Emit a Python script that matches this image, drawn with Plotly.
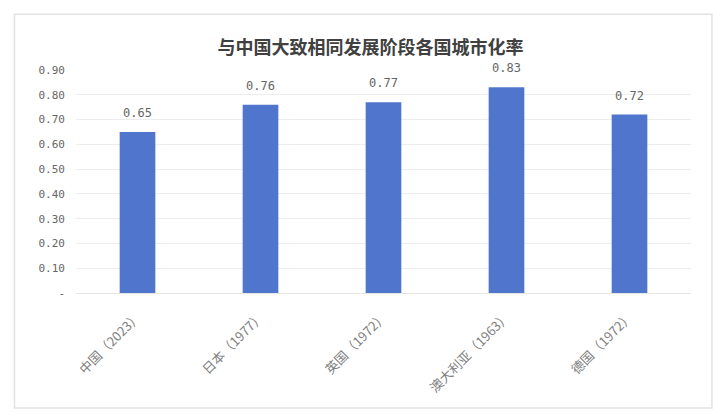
import plotly.graph_objects as go

countries = ['中国（2023）', '日本（1977）', '英国（1972）', '澳大利亚（1963）', '德国（1972）']
rates = [0.65, 0.76, 0.77, 0.83, 0.72]
y_ticks = [0, 0.1, 0.2, 0.3, 0.4, 0.5, 0.6, 0.7, 0.8, 0.9]
y_tick_text = ['-', '0.10', '0.20', '0.30', '0.40', '0.50', '0.60', '0.70', '0.80', '0.90']

fig = go.Figure(go.Bar(
    x=countries, y=rates,
    marker=dict(color='#4F76CC', line=dict(width=0)),
    width=0.29,
))

# value labels sit a bit higher above the bars than plotly's default
for c, v in zip(countries, rates):
    fig.add_annotation(x=c, y=v, text='%.2f' % v, showarrow=False, yanchor='bottom', yshift=10,
                       font=dict(size=12, color='#666666', family='DejaVu Sans Mono'))

fig.update_layout(
    width=725, height=418,
    margin=dict(l=68, r=42, t=62, b=133),
    paper_bgcolor='white', plot_bgcolor='white',
    title=dict(text='<b>与中国大致相同发展阶段各国城市化率</b>', x=0.5, xanchor='center',
               y=0.905, yanchor='middle',
               font=dict(size=18, color='#404040', family='Noto Sans CJK SC')),
    showlegend=False,
    shapes=[dict(type='rect', xref='paper', yref='paper', x0=-0.1, x1=1.034, y0=-0.516, y1=1.25,
                 line=dict(color='#E3E3E3', width=1.5), fillcolor='rgba(0,0,0,0)', layer='below')],
)
fig.update_xaxes(
    tickangle=-45, tickfont=dict(size=13, color='#808080', family='Noto Sans CJK SC'),
    showline=True, linecolor='#E6E6E6', linewidth=1, ticks='', showgrid=False,
    ticklabelstandoff=10,
)
fig.update_yaxes(
    range=[0, 0.9], tickvals=y_ticks, ticktext=y_tick_text,
    tickfont=dict(size=11, color='#666666', family='DejaVu Sans Mono'),
    gridcolor='#EDEDED', gridwidth=1, zeroline=False, ticklabelstandoff=10,
)

fig.write_html('out.html')
